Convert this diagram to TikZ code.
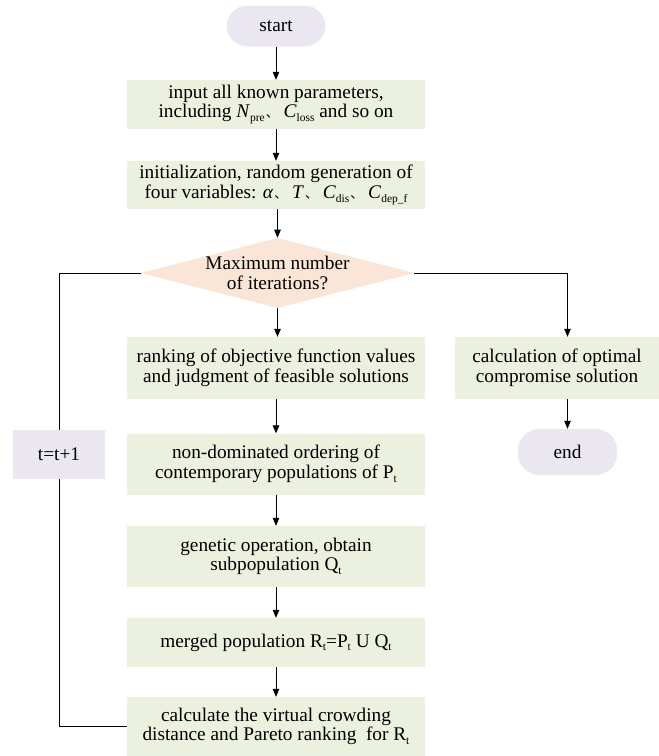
\documentclass[tikz,border=0pt]{standalone}
\usepackage{fontspec}
\setmainfont{Liberation Serif}
\newfontfamily\cjk{Noto Sans CJK SC}
\usetikzlibrary{shapes.geometric,arrows.meta}
\definecolor{boxgreen}{HTML}{EBF1DE}
\definecolor{peach}{HTML}{FBE5D6}
\definecolor{lav}{HTML}{EAE7F0}
\newcommand\sbx[1]{\raisebox{-0.2em}{\fontsize{11.5}{11.5}\selectfont #1}}
\newcommand\dun{\kern1pt{\fontsize{13}{13}\selectfont\cjk 、}}
\begin{document}
\begin{tikzpicture}[x=1pt,y=-1pt,
  base/.style={font=\fontsize{19.3}{19.5}\selectfont, align=center, inner sep=0pt, draw=none},
  proc/.style={base, fill=boxgreen, minimum width=298pt},
  term/.style={base, fill=lav, rounded corners=21pt, minimum width=99pt},
  decision/.style={base, diamond, aspect=3.9, fill=peach, minimum width=265pt, minimum height=68pt},
  arr/.style={-{Triangle[length=8pt,width=6.5pt]}, line width=0.8pt},
  ln/.style={line width=0.8pt}]
\useasboundingbox (0,0) rectangle (659,756);
\node[term, minimum height=41pt] (start) at (276,26) {start};
\node[proc, minimum height=49pt] (input) at (276,104.5) {input all known parameters,\\ including \textit{N}\sbx{pre}\dun\ \textit{C}\sbx{loss} and so on};
\node[proc, minimum height=48pt] (init) at (276,185) {initialization, random generation of\\ four variables: \textit{α}\dun\ \textit{T}\dun\ \textit{C}\sbx{dis}\dun\ \textit{C}\sbx{dep\_f}};
\node[decision] (dec) at (277.5,273) {Maximum number\\ of iterations?};
\node[proc, minimum height=62pt] (rank) at (276,368) {ranking of objective function values\\ and judgment of feasible solutions};
\node[proc, minimum width=204pt, minimum height=62pt] (calc) at (557,368) {calculation of optimal\\ compromise solution};
\node[term, minimum height=46pt] (end) at (567.5,452) {end};
\node[base, fill=lav, minimum width=92pt, minimum height=49pt] (tt) at (59,454.5) {t=t+1};
\node[proc, minimum height=61pt] (nd) at (276,464) {non-dominated ordering of\\ contemporary populations of P\sbx{t}};
\node[proc, minimum height=61pt] (gen) at (276,556.5) {genetic operation, obtain\\ subpopulation Q\sbx{t}};
\node[proc, minimum height=49pt] (mer) at (276,642.5) {merged population R\sbx{t}=P\sbx{t} U Q\sbx{t}};
\node[proc, minimum height=59pt] (fin) at (276,726.5) {calculate the virtual crowding\\ distance and Pareto ranking~ for R\sbx{t}};
\draw[arr] (start) -- (input);
\draw[arr] (input) -- (init);
\draw[arr] (init.south -| dec.north) -- (dec.north);
\draw[arr] (dec.south) -- (dec.south |- rank.north);
\draw[arr] (dec.east) -| (end |- calc.north);
\draw[arr] (end |- calc.south) -- (end);
\draw[arr] (rank) -- (nd);
\draw[arr] (nd) -- (gen);
\draw[arr] (gen) -- (mer);
\draw[arr] (mer) -- (fin);
\draw[ln] (fin.west) -| (tt.south);
\draw[ln] (tt.north) |- (dec.west);
\end{tikzpicture}
\end{document}
